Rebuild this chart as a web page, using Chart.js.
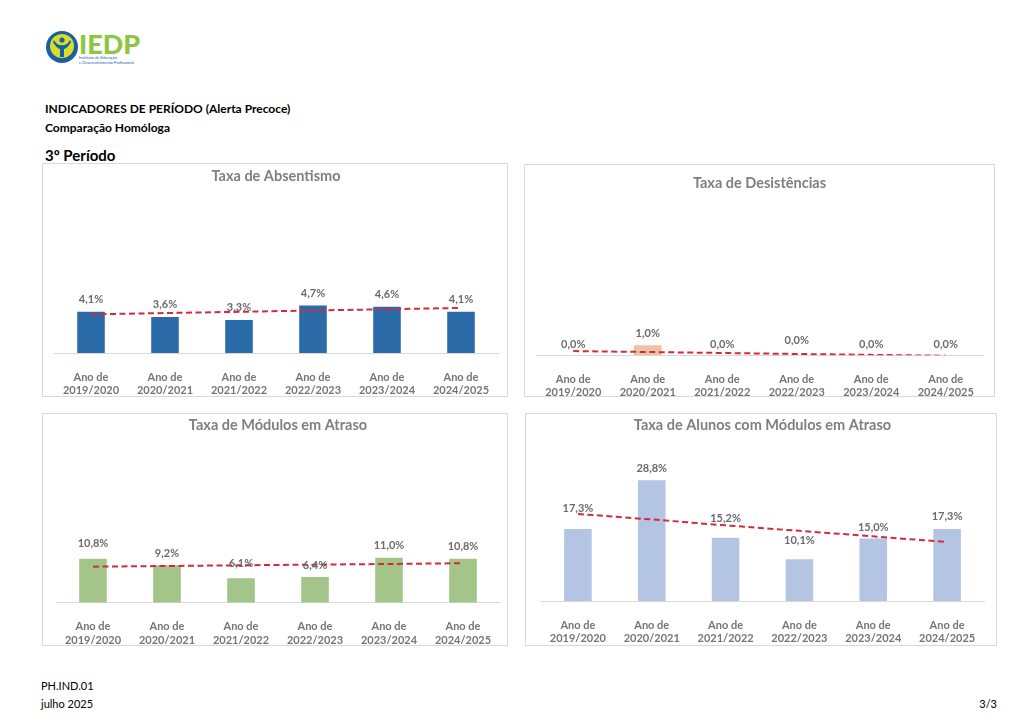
<!DOCTYPE html>
<html lang="pt">
<head>
<meta charset="utf-8">
<script src="https://cdn.jsdelivr.net/npm/chart.js@4.4.1/dist/chart.umd.min.js"></script>
<style>
  body { margin: 0; width: 1024px; height: 724px; background: #fff; position: relative; overflow: hidden; font-family: Lato, sans-serif; }
  .txt { position: absolute; color: #000; white-space: nowrap; }
  .box { position: absolute; border: 1px solid #d9d9d9; box-sizing: border-box; background: #fff; }
  .box canvas { display: block; }
</style>
</head>
<body>

<!-- logo -->
<svg style="position:absolute;left:0;top:0" width="160" height="70">
  <circle cx="62" cy="47" r="16" fill="#1b5ea6"/>
  <circle cx="62" cy="46" r="12" fill="#d6df26"/>
  <circle cx="62" cy="40" r="2.6" fill="#1b5ea6"/>
  <path d="M54 40 Q57 46 62 45 Q67 46 70 40 L71 42 Q67 49 64 49 L64 57 L60 57 L60 49 Q57 49 53 42 Z" fill="#1b5ea6"/>
  <text x="79" y="54" font-family="Lato" font-weight="900" font-size="27" fill="#8dc63f">IEDP</text>
  <text x="79" y="59" font-family="Lato" font-size="4" fill="#1b5ea6">Instituto de Educação</text>
  <text x="79" y="63.5" font-family="Lato" font-size="4" fill="#1b5ea6">e Desenvolvimento Profissional</text>
</svg>

<div class="txt" style="left:45px;top:101px;font-size:12px;font-weight:bold;line-height:16px">INDICADORES DE PERÍODO (Alerta Precoce)</div>
<div class="txt" style="left:45px;top:120px;font-size:12px;font-weight:bold;line-height:16px">Comparação Homóloga</div>
<div class="txt" style="left:45px;top:146px;font-size:15px;font-weight:bold;line-height:18px">3º Período</div>

<div class="box" style="left:42px;top:163px;width:466px;height:234px"><canvas id="c1" width="464" height="232"></canvas></div>
<div class="box" style="left:524px;top:164px;width:471px;height:233px"><canvas id="c2" width="469" height="231"></canvas></div>
<div class="box" style="left:42px;top:413px;width:466px;height:233px"><canvas id="c3" width="464" height="231"></canvas></div>
<div class="box" style="left:525px;top:413px;width:472px;height:233px"><canvas id="c4" width="470" height="231"></canvas></div>

<div class="txt" style="left:41px;top:679px;font-size:11px;line-height:14px">PH.IND.01</div>
<div class="txt" style="left:41px;top:697px;font-size:11px;line-height:14px">julho 2025</div>
<div class="txt" style="right:27px;top:697px;font-size:11px;line-height:14px">3/3</div>

<script>
// Anos letivos
const anos = [
    ['Ano de', '2019/2020'],
    ['Ano de', '2020/2021'],
    ['Ano de', '2021/2022'],
    ['Ano de', '2022/2023'],
    ['Ano de', '2023/2024'],
    ['Ano de', '2024/2025'],
];

// Valores (%) e linhas de tendência
const absentismo = [4.1, 3.6, 3.3, 4.7, 4.6, 4.1];
const absentismoTend = [3.75, 3.88, 4.0, 4.13, 4.25, 4.38];

const desistencias = [0.0, 1.0, 0.0, 0.0, 0.0, 0.0];
const desistenciasTend = [0.38, 0.30, 0.21, 0.12, 0.04, -0.04];

const modulosAtraso = [10.8, 9.2, 6.1, 6.4, 11.0, 10.8];
const modulosAtrasoTend = [8.64, 8.8, 8.97, 9.13, 9.29, 9.46];

const alunosAtraso = [17.3, 28.8, 15.2, 10.1, 15.0, 17.3];
const alunosAtrasoTend = [20.6, 19.3, 17.9, 16.6, 15.3, 13.95];

Chart.defaults.font.family = 'Lato';
Chart.defaults.devicePixelRatio = 1;

// rótulos de dados por cima das barras (afastamento em px por barra, opcional)
const rotulos = {
    id: 'rotulos',
    afterDatasetsDraw(chart, args, opts) {
        const ctx = chart.ctx;
        const meta = chart.getDatasetMeta(0);
        const valores = chart.data.datasets[0].data;
        const lift = opts.lift || [];
        ctx.save();
        ctx.font = 'bold 11px Lato';
        ctx.fillStyle = '#6b6b6b';
        ctx.textAlign = 'center';
        ctx.textBaseline = 'middle';
        meta.data.forEach((bar, i) => {
            const txt = valores[i].toFixed(1).replace('.', ',') + '%';
            ctx.fillText(txt, bar.x, bar.y - (lift[i] || 11.5));
        });
        ctx.restore();
    },
};

function grafico(id, titulo, valores, tendencia, cor, opt) {
    const canvas = document.getElementById(id);
    return new Chart(canvas.getContext('2d'), {
        data: {
            labels: anos,
            datasets: [
                {
                    type: 'bar',
                    data: valores,
                    backgroundColor: cor,
                    borderColor: 'rgba(255,255,255,0.6)',
                    borderWidth: 1,
                    barPercentage: 0.4,
                    categoryPercentage: 1,
                    order: 1,
                },
                {
                    type: 'line',
                    data: tendencia,
                    borderColor: '#d42a3c',
                    borderWidth: 2,
                    borderDash: [6, 3.5],
                    pointRadius: 0,
                    fill: false,
                    tension: 0,
                    order: 0,
                },
            ],
        },
        options: {
            responsive: false,
            animation: false,
            layout: { padding: { left: opt.left, right: opt.right, top: 0, bottom: 0 } },
            plugins: {
                legend: { display: false },
                tooltip: { enabled: false },
                rotulos: { lift: opt.lift },
                title: {
                    display: true,
                    text: titulo,
                    color: '#7f7f7f',
                    font: { size: 14.5, weight: 'bold' },
                    padding: { top: opt.titleY - 8.7, bottom: 40 - opt.titleY - 8.7 },
                },
            },
            scales: {
                x: {
                    grid: { display: false },
                    border: { color: '#d9d9d9', width: 1 },
                    ticks: {
                        color: '#757575',
                        font: { size: 11, weight: 'bold', lineHeight: 1.22 },
                        padding: 9.3,
                        maxRotation: 0,
                        autoSkip: false,
                    },
                    afterFit(scale) { scale.height = canvas.height - opt.base; },
                },
                y: { display: false, min: 0, max: opt.yMax },
            },
        },
        plugins: [rotulos],
    });
}

grafico('c1', 'Taxa de Absentismo', absentismo, absentismoTend, '#2b6ca8',
    { left: 11, right: 9, base: 189, titleY: 12, yMax: 14.47 });
grafico('c2', 'Taxa de Desistências', desistencias, desistenciasTend, '#edc3a5',
    { left: 11, right: 11, base: 190.3, titleY: 18.3, yMax: 13.66, lift: [11, 11, 11, 15, 11, 11] });
grafico('c3', 'Taxa de Módulos em Atraso', modulosAtraso, modulosAtrasoTend, '#a3c58a',
    { left: 13, right: 7, base: 188.7, titleY: 11, yMax: 35.66, lift: [14.4, 11, 13.7, 11, 11, 11] });
grafico('c4', 'Taxa de Alunos com Módulos em Atraso', alunosAtraso, alunosAtrasoTend, '#b3c5e3',
    { left: 15, right: 12, base: 187, titleY: 11, yMax: 34.79, lift: [19, 11, 18.7, 17.7, 10.4, 11] });
</script>
</body>
</html>
